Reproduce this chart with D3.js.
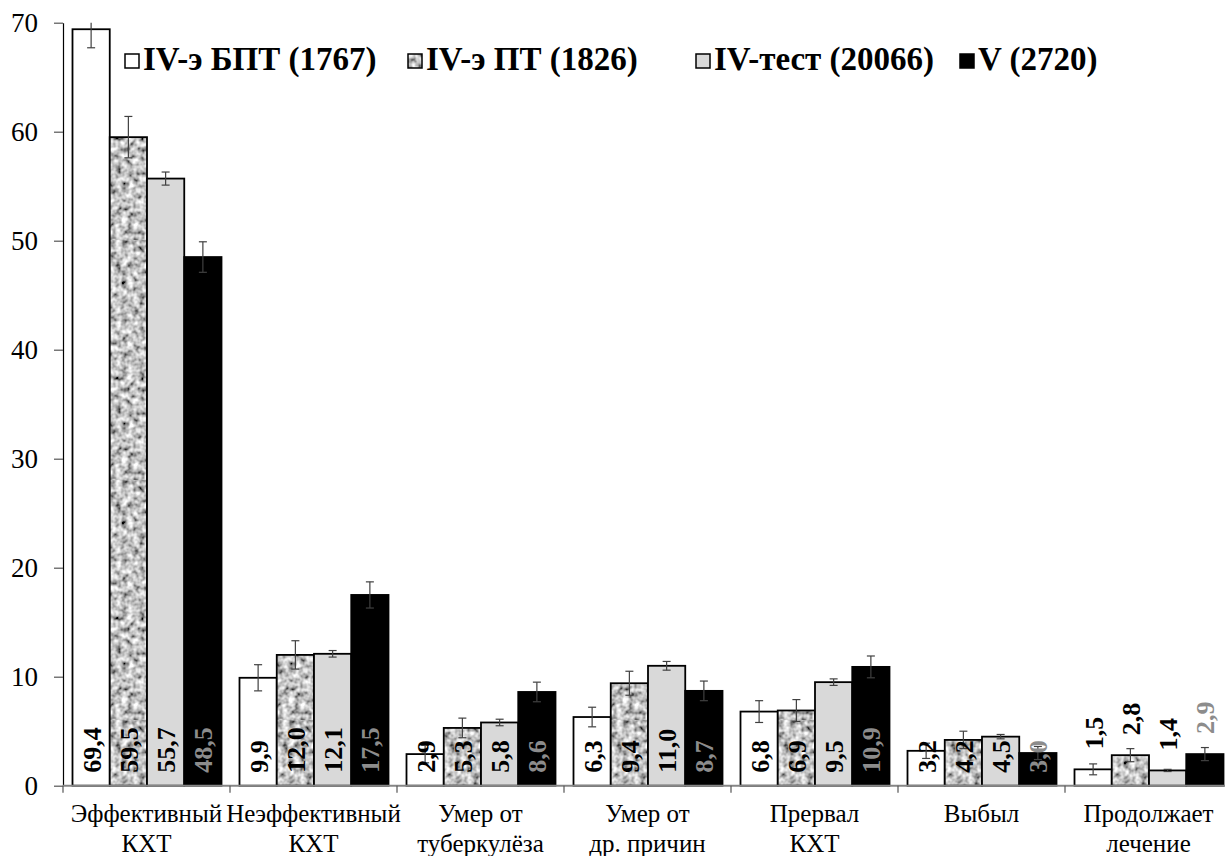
<!DOCTYPE html>
<html>
<head>
<meta charset="utf-8">
<script src="https://cdn.jsdelivr.net/npm/d3@7"></script>
<style>
  body { margin: 0; background: #fff; }
  svg { display: block; font-family: "Liberation Serif", "Times New Roman", serif; }
</style>
</head>
<body>
<script>
// categories (two-line labels)
var categories = ["Эффективный КХТ", "Неэффективный КХТ", "Умер от туберкулёза",
                  "Умер от др. причин", "Прервал КХТ", "Выбыл", "Продолжает лечение"];
var categoryLines = [["Эффективный", "КХТ"], ["Неэффективный", "КХТ"], ["Умер от", "туберкулёза"],
                     ["Умер от", "др. причин"], ["Прервал", "КХТ"], ["Выбыл"], ["Продолжает", "лечение"]];

var seriesNames = ["IV-э БПТ (1767)", "IV-э ПТ (1826)", "IV-тест (20066)", "V (2720)"];

// values, %
var s1 = [69.4, 9.9, 2.9, 6.3, 6.8, 3.2, 1.5];
var s2 = [59.5, 12.0, 5.3, 9.4, 6.9, 4.2, 2.8];
var s3 = [55.7, 12.1, 5.8, 11.0, 9.5, 4.5, 1.4];
var s4 = [48.5, 17.5, 8.6, 8.7, 10.9, 3.0, 2.9];

// error bar half-widths (estimated)
var e1 = [1.7, 1.2, 0.8, 0.9, 1.0, 0.7, 0.5];
var e2 = [1.9, 1.3, 0.9, 1.1, 1.0, 0.8, 0.6];
var e3 = [0.6, 0.3, 0.3, 0.4, 0.3, 0.2, 0.1];
var e4 = [1.4, 1.2, 0.9, 0.9, 1.0, 0.6, 0.6];

var yTicks = [0, 10, 20, 30, 40, 50, 60, 70];

var values = [s1, s2, s3, s4];
var errors = [e1, e2, e3, e4];

var W = 1225, H = 856;
var plotLeft = 63, plotRight = 1232, plotTop = 22.7, plotBase = 785.7;

var svg = d3.select("body").append("svg")
    .attr("width", W)
    .attr("height", H);

// granite texture for the second series
var defs = svg.append("defs");
var flt = defs.append("filter").attr("id", "noise")
    .attr("x", 0).attr("y", 0).attr("width", "100%").attr("height", "100%");
flt.append("feTurbulence")
    .attr("type", "fractalNoise")
    .attr("baseFrequency", 0.17)
    .attr("numOctaves", 2)
    .attr("seed", 4);
flt.append("feColorMatrix")
    .attr("type", "matrix")
    .attr("values", "1.7 0 0 0 -0.3  1.7 0 0 0 -0.3  1.7 0 0 0 -0.3  0 0 0 0 1");
var pat = defs.append("pattern").attr("id", "granite")
    .attr("patternUnits", "userSpaceOnUse")
    .attr("width", 240).attr("height", 240);
pat.append("rect").attr("width", 240).attr("height", 240).attr("filter", "url(#noise)");

var fills = ["#ffffff", "url(#granite)", "#d9d9d9", "#000000"];
var labelColors = ["#000", "#000", "#000", "#8c8c8c"];

// scales
var x0 = d3.scaleBand().domain(categories).range([plotLeft, plotRight]).paddingInner(0).paddingOuter(0);
var x1 = d3.scaleBand().domain(d3.range(4)).range([9.5, x0.bandwidth() - 8.5]).padding(0);
var y = d3.scaleLinear().domain([0, 70]).range([plotBase, plotTop]);

// y axis
var yAxis = svg.append("g")
    .attr("transform", "translate(" + plotLeft + ",0)")
    .call(d3.axisLeft(y).tickValues(yTicks).tickSize(9).tickPadding(16).tickSizeOuter(0));
yAxis.select(".domain").attr("stroke", "#000").attr("stroke-width", 1.2);
yAxis.selectAll(".tick line").attr("stroke", "#555").attr("stroke-width", 1.2);
yAxis.selectAll(".tick text")
    .attr("font-family", "Liberation Serif, Times New Roman, serif")
    .attr("font-size", 27)
    .attr("fill", "#000");

// bars
var groups = svg.append("g").selectAll("g")
    .data(categories)
    .join("g")
    .attr("transform", function(d) { return "translate(" + x0(d) + ",0)"; });

groups.each(function(cat, ci) {
  var g = d3.select(this);
  for (var si = 0; si < 4; si++) {
    var v = values[si][ci];
    g.append("rect")
        .attr("x", x1(si))
        .attr("y", y(v))
        .attr("width", x1.bandwidth())
        .attr("height", plotBase - y(v))
        .attr("fill", fills[si])
        .attr("stroke", "#000")
        .attr("stroke-width", 1.8);
  }
});

// x axis line + ticks at category boundaries
var xAxis = svg.append("g");
xAxis.append("line")
    .attr("x1", plotLeft).attr("x2", plotRight)
    .attr("y1", plotBase).attr("y2", plotBase)
    .attr("stroke", "#868686").attr("stroke-width", 2);
xAxis.selectAll(".xt")
    .data(categories)
    .join("line")
    .attr("class", "xt")
    .attr("x1", function(d) { return x0(d); })
    .attr("x2", function(d) { return x0(d); })
    .attr("y1", plotBase)
    .attr("y2", plotBase + 7)
    .attr("stroke", "#555").attr("stroke-width", 1.2);

// error bars (clipped to the axis range)
groups.each(function(cat, ci) {
  var g = d3.select(this);
  for (var si = 0; si < 4; si++) {
    var v = values[si][ci], e = errors[si][ci];
    var cx = x1(si) + x1.bandwidth() / 2;
    var hi = Math.min(v + e, 70), lo = Math.max(v - e, 0);
    g.append("line")
        .attr("x1", cx).attr("x2", cx)
        .attr("y1", y(hi)).attr("y2", y(lo))
        .attr("stroke", "#404040").attr("stroke-width", 1.2);
    if (v + e <= 70) {
      g.append("line")
          .attr("x1", cx - 4).attr("x2", cx + 4)
          .attr("y1", y(hi)).attr("y2", y(hi))
          .attr("stroke", "#404040").attr("stroke-width", 1.2);
    }
    g.append("line")
        .attr("x1", cx - 4).attr("x2", cx + 4)
        .attr("y1", y(lo)).attr("y2", y(lo))
        .attr("stroke", "#404040").attr("stroke-width", 1.2);
  }
});

// value labels, rotated; inside base, except the last category (outside end)
groups.each(function(cat, ci) {
  var g = d3.select(this);
  var outside = ci === categories.length - 1;
  for (var si = 0; si < 4; si++) {
    var v = values[si][ci];
    var cx = x1(si) + x1.bandwidth() / 2;
    var ly = outside ? y(v) - 20 : plotBase - 13;
    g.append("text")
        .attr("transform", "translate(" + cx + "," + ly + ") rotate(-90)")
        .attr("dy", "0.36em")
        .attr("text-anchor", "start")
        .attr("font-size", 26)
        .attr("font-weight", "bold")
        .attr("fill", labelColors[si])
        .text(d3.format(".1f")(v).replace(".", ","));
  }
});

// category labels
svg.append("g").selectAll("text")
    .data(categories)
    .join("text")
    .attr("x", function(d) { return x0(d) + x0.bandwidth() / 2; })
    .attr("y", 822)
    .attr("text-anchor", "middle")
    .attr("font-size", 25)
    .attr("fill", "#000")
    .each(function(d, i) {
      var t = d3.select(this);
      categoryLines[i].forEach(function(line, li) {
        t.append("tspan")
            .attr("x", x0(d) + x0.bandwidth() / 2)
            .attr("dy", li === 0 ? 0 : 30)
            .text(line);
      });
    });

// legend
var legendX = [125, 408, 696, 960];
var legend = svg.append("g");
seriesNames.forEach(function(name, i) {
  legend.append("rect")
      .attr("x", legendX[i]).attr("y", 54)
      .attr("width", 14).attr("height", 14)
      .attr("fill", fills[i])
      .attr("stroke", "#000").attr("stroke-width", 1.5);
  legend.append("text")
      .attr("x", legendX[i] + 18).attr("y", 70)
      .attr("font-size", 33)
      .attr("font-weight", "bold")
      .text(name);
});
</script>
</body>
</html>
